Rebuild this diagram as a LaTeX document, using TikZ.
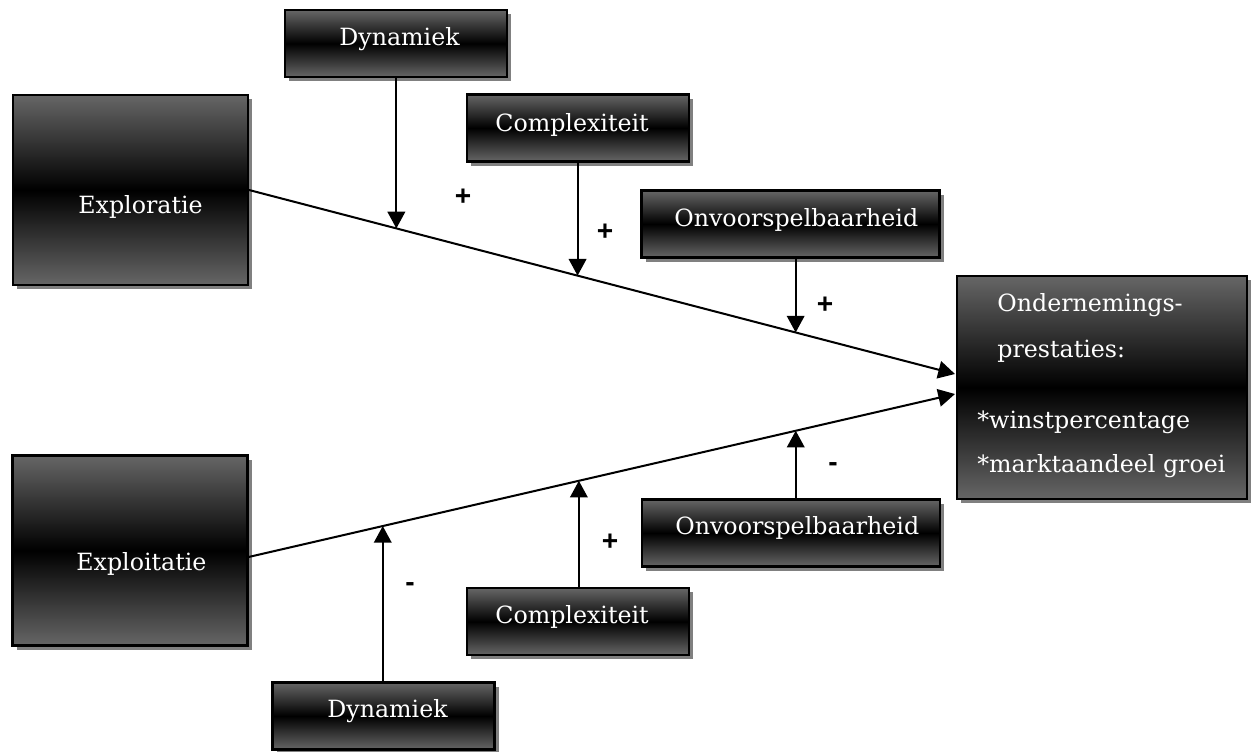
\documentclass[tikz,border=0pt]{standalone}
\usepackage{fontspec}
\setmainfont{DejaVu Serif}
\newfontfamily\lblfont{Liberation Sans}
\usetikzlibrary{shadows,arrows.meta,calc}
\definecolor{boxgray}{RGB}{102,102,102}
\definecolor{shadowgray}{RGB}{128,128,128}
\begin{document}
\begin{tikzpicture}[x=0.02cm,y=-0.02cm,
  box/.style={draw=black, line width=1.2pt, top color=boxgray, bottom color=boxgray, middle color=black,
    drop shadow={fill=shadowgray, opacity=1, shadow xshift=2.3pt, shadow yshift=-2.3pt}, inner sep=0pt},
  txt/.style={text=white, font=\fontsize{13.5}{16}\selectfont, inner sep=0pt, anchor=base west},
  sign/.style={font=\lblfont\bfseries\fontsize{16}{18}\selectfont, inner sep=0pt},
  conn/.style={line width=1.15pt, -{Triangle[width=10pt,length=9.5pt]}},
  big/.style={minimum width=4.7cm, minimum height=3.8cm},
  small/.style={minimum width=4.44cm, minimum height=1.34cm},
  wide/.style={minimum width=5.96cm, minimum height=1.34cm}
]
\useasboundingbox (0,0) rectangle (1256,751);

% boxes
\node[box,big] (expl) at (130.5,190) {};
\node[box,big] (expt) at (130,550.5) {};
\node[box,small] (dyn1) at (396,43.5) {};
\node[box,small] (comp1) at (578,128) {};
\node[box,wide] (onv1) at (790.5,224) {};
\node[box,minimum width=5.8cm,minimum height=4.46cm] (perf) at (1102,387.5) {};
\node[box,wide] (onv2) at (791,533) {};
\node[box,small] (comp2) at (578,621.5) {};
\node[box,small] (dyn2) at (383.5,716) {};

% texts
\node[txt] at (78,213) {Exploratie};
\node[txt] at (76,570) {Exploitatie};
\node[txt] at (339,45) {Dynamiek};
\node[txt] at (495,131) {Complexiteit};
\node[txt] at (674,226) {Onvoorspelbaarheid};
\node[txt] at (997,311) {Ondernemings-};
\node[txt] at (997,357) {prestaties:};
\node[txt] at (977,428) {*winstpercentage};
\node[txt] at (977,472) {*marktaandeel groei};
\node[txt] at (675,534) {Onvoorspelbaarheid};
\node[txt] at (495,623) {Complexiteit};
\node[txt] at (327,717) {Dynamiek};

% main connectors
\coordinate (in1) at ($(perf.west)+(-1,-13.5)$);
\coordinate (in2) at ($(perf.west)+(-1,6.5)$);
\coordinate (out1) at ($(expl.east)+(0,0)$);
\coordinate (out2) at ($(expt.east)+(0,6.5)$);
\draw[conn] (out1) -- (in1)
  coordinate[pos=0.2087] (t1)
  coordinate[pos=0.4654] (t2)
  coordinate[pos=0.7743] (t3);
\draw[conn] (out2) -- (in2)
  coordinate[pos=0.190] (b1)
  coordinate[pos=0.4676] (b2)
  coordinate[pos=0.7746] (b3);

% moderator arrows
\draw[conn] (t1 |- dyn1.south) -- (t1);
\draw[conn] (t2 |- comp1.south) -- (t2);
\draw[conn] (t3 |- onv1.south) -- (t3);
\draw[conn] (b1 |- dyn2.north) -- (b1);
\draw[conn] (b2 |- comp2.north) -- (b2);
\draw[conn] (b3 |- onv2.north) -- (b3);

% signs
\node[sign] (s1) at (463,197) {+};
\node[sign] (s2) at (605,232) {+};
\node[sign] (s3) at (825,305) {+};
\node[sign] (s4) at (833,467) {-};
\node[sign] (s5) at (610,542) {+};
\node[sign] (s6) at (410,587) {-};
\end{tikzpicture}
\end{document}
